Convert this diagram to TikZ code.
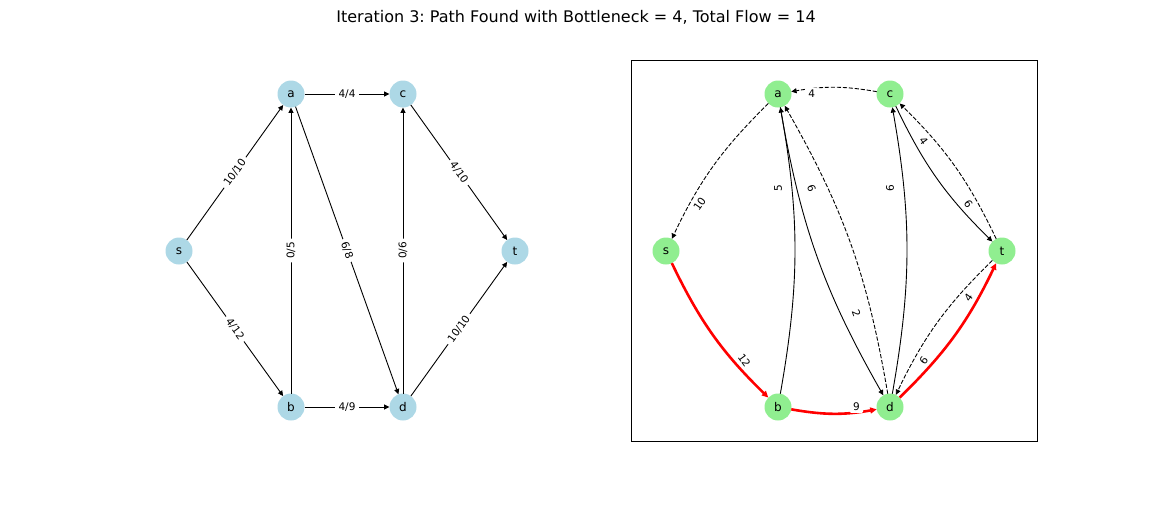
\documentclass[tikz,border=0pt]{standalone}
\usepackage{fontspec}
\setmainfont{DejaVu Sans}
\usepackage{tikz}
\usetikzlibrary{
    calc,
    arrows.meta
}
\frenchspacing

\begin{document}
\begin{tikzpicture}[
    x=1pt,
    y=-1pt,
    vertex1/.style={
        circle,
        fill=nodeblue,
        minimum size=27pt,
        inner sep=0pt,
        outer sep=0pt,
        font=\fontsize{12}{14}\selectfont
    },
    vertex2/.style={
        circle,
        fill=nodegreen,
        minimum size=27pt,
        inner sep=0pt,
        outer sep=0pt,
        font=\fontsize{12}{14}\selectfont
    },
    elabel/.style={
        fill=white,
        rounded corners=2pt,
        inner xsep=3.5pt,
        inner ysep=2pt,
        font=\fontsize{10.5}{12}\selectfont
    },
    flow/.style={
        line width=0.9pt,
        -{Triangle[length=5.3pt,width=5pt]}
    },
    backedge/.style={
        flow,
        dash pattern=on 4.2pt off 1.8pt
    },
    augment/.style={
        red,
        line width=2.6pt,
        -{Triangle[length=6.5pt,width=6pt]}
    }]
    \definecolor{nodeblue}{RGB}{173, 216, 230}
    \definecolor{nodegreen}{RGB}{144, 238, 144}

    \useasboundingbox (0,0) rectangle (1152,504);

    \node[font=\fontsize{16}{19}\selectfont] (head) at (576,17) {Iteration 3: Path Found with Bottleneck = 4, Total Flow = 14};

    \draw[line width=1pt] (631,60) rectangle (1037,441);

    \node[vertex1] (ls) at (179,251) {s};
    \node[vertex1] (la) at (291,94) {a};
    \node[vertex1] (lb) at (291,407) {b};
    \node[vertex1] (lc) at (403,94) {c};
    \node[vertex1] (ld) at (403,407) {d};
    \node[vertex1] (lt) at (515,251) {t};

    \draw[flow] (ls) -- (la);
    \draw[flow] (ls) -- (lb);
    \draw[flow] (la) -- (lc);
    \draw[flow] (lb) -- (la);
    \draw[flow] (la) -- (ld);
    \draw[flow] (lb) -- (ld);
    \draw[flow] (ld) -- (lc);
    \draw[flow] (lc) -- (lt);
    \draw[flow] (ld) -- (lt);

    \node[elabel, rotate=54.5] (lsa) at ($(ls)!0.5!(la)$) {10/10};
    \node[elabel, rotate=-54.3] (lsb) at ($(ls)!0.5!(lb)$) {4/12};
    \node[elabel] (lac) at ($(la)!0.5!(lc)$) {4/4};
    \node[elabel, rotate=90] (lba) at ($(lb)!0.5!(la)$) {0/5};
    \node[elabel, rotate=-70.3] (lad) at ($(la)!0.5!(ld)$) {6/8};
    \node[elabel] (lbd) at ($(lb)!0.5!(ld)$) {4/9};
    \node[elabel, rotate=90] (ldc) at ($(ld)!0.5!(lc)$) {0/6};
    \node[elabel, rotate=-54.5] (lct) at ($(lc)!0.5!(lt)$) {4/10};
    \node[elabel, rotate=54.3] (ldt) at ($(ld)!0.5!(lt)$) {10/10};

    \node[vertex2] (rs) at (666,251) {s};
    \node[vertex2] (ra) at (778,94) {a};
    \node[vertex2] (rb) at (778,407) {b};
    \node[vertex2] (rc) at (890,94) {c};
    \node[vertex2] (rd) at (890,407) {d};
    \node[vertex2] (rt) at (1002,251) {t};

    \draw[backedge] (ra) to[bend right=10] (rs);
    \draw[backedge] (rc) to[bend right=10] (ra);
    \draw[flow] (rb) to[bend right=10] (ra);
    \draw[flow] (ra) to[bend right=10] (rd);
    \draw[backedge] (rd) to[bend right=10] (ra);
    \draw[flow] (rd) to[bend right=10] (rc);
    \draw[flow] (rc) to[bend right=10] (rt);
    \draw[backedge] (rt) to[bend right=10] (rc);
    \draw[backedge] (rt) to[bend right=10] (rd);
    \draw[augment] (rs) to[bend right=10] (rb);
    \draw[augment] (rb) to[bend right=10] (rd);
    \draw[augment] (rd) to[bend right=10] (rt);

    \node[elabel, rotate=54.5] (ras) at ($(ra)!0.7!(rs)$) {10};
    \node[elabel, rotate=-54.3] (rsb) at ($(rs)!0.7!(rb)$) {12};
    \node[elabel] (rbd) at ($(rb)!0.7!(rd)$) {9};
    \node[elabel, rotate=54.3] (rdt) at ($(rd)!0.7!(rt)$) {4};
    \node[elabel, rotate=54.3] (rtd) at ($(rt)!0.7!(rd)$) {6};
    \node[elabel] (rca) at ($(rc)!0.7!(ra)$) {4};
    \node[elabel, rotate=-54.5] (rct) at ($(rc)!0.7!(rt)$) {6};
    \node[elabel, rotate=-54.5] (rtc) at ($(rt)!0.7!(rc)$) {4};
    \node[elabel, rotate=90] (rba) at ($(rb)!0.7!(ra)$) {5};
    \node[elabel, rotate=-70.3] (rad) at ($(ra)!0.7!(rd)$) {2};
    \node[elabel, rotate=-70.3] (rda) at ($(rd)!0.7!(ra)$) {6};
    \node[elabel, rotate=90] (rdc) at ($(rd)!0.7!(rc)$) {6};
\end{tikzpicture}
\end{document}
